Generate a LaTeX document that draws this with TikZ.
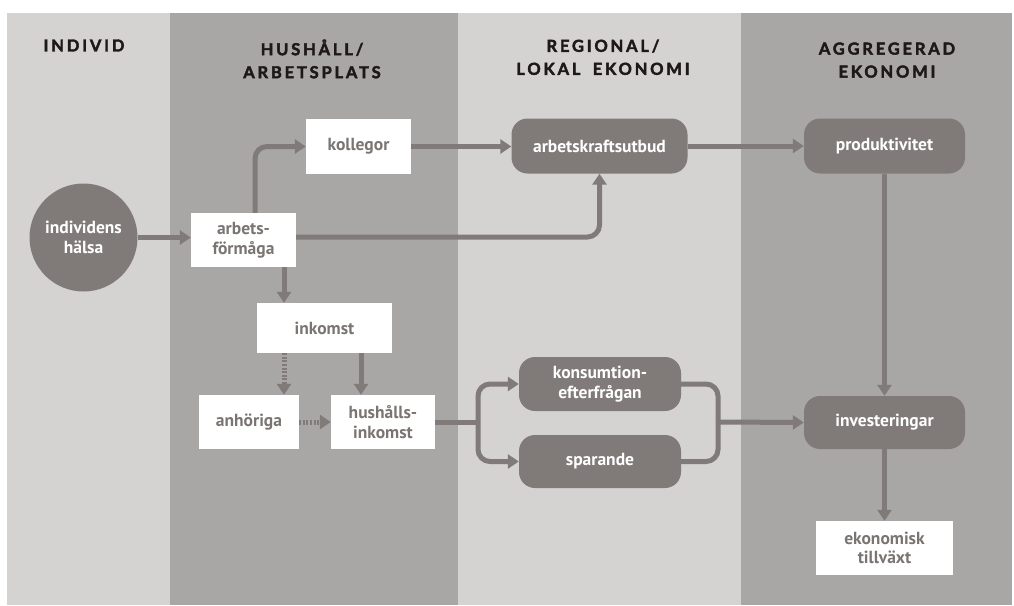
\documentclass[tikz,border=0pt]{standalone}
\usepackage{fontspec}
\setmainfont{PT Sans}
\newfontfamily\headfont{Lato}[LetterSpace=17, WordSpace=1.8, BoldFeatures={FakeBold=2.5}]
\usepackage{xcolor}
\usepackage{tikz}
\usetikzlibrary{arrows.meta, positioning, calc}

\definecolor{panellight}{HTML}{D4D3D2}
\definecolor{paneldark}{HTML}{A8A7A6}
\definecolor{boxgray}{HTML}{807B78}
\definecolor{textgray}{HTML}{7A7572}
\definecolor{headink}{HTML}{1E1816}

\begin{document}
\begin{tikzpicture}[
    x=1pt, y=-1pt,
    block/.style={
        rectangle,
        fill=white,
        text=textgray,
        font=\fontsize{17.5}{19.5}\selectfont\bfseries,
        align=center,
        inner sep=0pt
    },
    pill/.style={
        block,
        fill=boxgray,
        text=white,
        rounded corners=16pt
    },
    head/.style={
        text=headink,
        font=\headfont\fontsize{16.5}{23}\selectfont\bfseries,
        align=center,
        anchor=north
    },
    flow/.style={
        draw=boxgray,
        line width=5pt,
        rounded corners=12pt,
        -{Triangle[width=14pt,length=11pt]}
    },
    dotflow/.style={
        flow,
        dash pattern=on 2pt off 1.6pt
    },
    link/.style={
        draw=boxgray,
        line width=5pt,
        rounded corners=12pt
    }
]
\useasboundingbox (0,0) rectangle (1014,605);

% The four levels
\fill[panellight] (7,13) rectangle (170,605);
\fill[paneldark] (170,13) rectangle (458,605);
\fill[panellight] (458,13) rectangle (741,605);
\fill[paneldark] (741,13) rectangle (1012,605);

\node[head] (hindivid) at (84,36) {INDIVID};
\node[head] (hhushall) at (312,36) {HUSHÅLL/\\ARBETSPLATS};
\node[head] (hregional) at (603,36) {REGIONAL/\\LOKAL EKONOMI};
\node[head] (haggregerad) at (887,39) {AGGREGERAD\\EKONOMI};

% Nodes
\node[pill, circle, minimum size=108pt] (halsa) at (83.5,237.5) {individens\\hälsa};
\node[block, minimum width=105pt, minimum height=54pt] (arbets) at (243.5,240) {arbets-\\förmåga};
\node[block, minimum width=105pt, minimum height=55pt] (kollegor) at (358.5,146.5) {kollegor};
\node[block, minimum width=135pt, minimum height=50pt] (inkomst) at (324.5,328) {inkomst};
\node[block, minimum width=100pt, minimum height=54pt] (anhoriga) at (249,422) {anhöriga};
\node[block, minimum width=104pt, minimum height=54pt] (hushalls) at (383,422) {hushålls-\\inkomst};

\node[pill, minimum width=176pt, minimum height=55pt] (utbud) at (599.5,146) {arbetskraftsutbud};
\node[pill, minimum width=162pt, minimum height=54pt] (konsumtion) at (600,384) {konsumtion-\\efterfrågan};
\node[pill, minimum width=162pt, minimum height=53pt] (sparande) at (600,461.5) {sparande};

\node[pill, minimum width=161pt, minimum height=55pt] (produktivitet) at (884.5,146) {produktivitet};
\node[pill, minimum width=161pt, minimum height=53pt] (investeringar) at (884.5,422.5) {investeringar};
\node[block, minimum width=137pt, minimum height=54pt] (tillvaxt) at (884.5,548) {ekonomisk\\tillväxt};

% Helper points
\coordinate (upturn) at ($(arbets.north)+(11.5,0)$);
\coordinate (downturn) at ($(arbets.south)+(40.5,0)$);
\coordinate (inkdrop) at ($(inkomst.south)+(36.5,0)$);
\coordinate (split) at (478,422);
\coordinate (join) at (718,422);

% Connectors
\draw[flow] (halsa.east) -- (halsa.east -| arbets.west);
\draw[flow] (upturn) |- (kollegor.west);
\draw[flow] (kollegor.east) -- (kollegor.east -| utbud.west);
\draw[flow] ($(arbets.east)+(0,-3)$) -| (utbud.south);
\draw[flow] (utbud.east) -- (produktivitet.west);
\draw[flow] (produktivitet.south) -- (investeringar.north);
\draw[flow] (investeringar.south) -- (tillvaxt.north);

\draw[flow] (downturn) -- (downturn |- inkomst.north);
\draw[dotflow] (downturn |- inkomst.south) -- (downturn |- anhoriga.north);
\draw[flow] (inkdrop) -- (inkdrop |- hushalls.north);
\draw[dotflow] (anhoriga.east) -- (hushalls.west);

\draw[link] (hushalls.east) -- (split);
\draw[flow] (split) |- (konsumtion.west);
\draw[flow] (split) |- (sparande.west);
\draw[link] (konsumtion.east) -| (join);
\draw[link] (sparande.east) -| (join);
\draw[flow] (join) -- (investeringar.west);

\end{tikzpicture}
\end{document}
